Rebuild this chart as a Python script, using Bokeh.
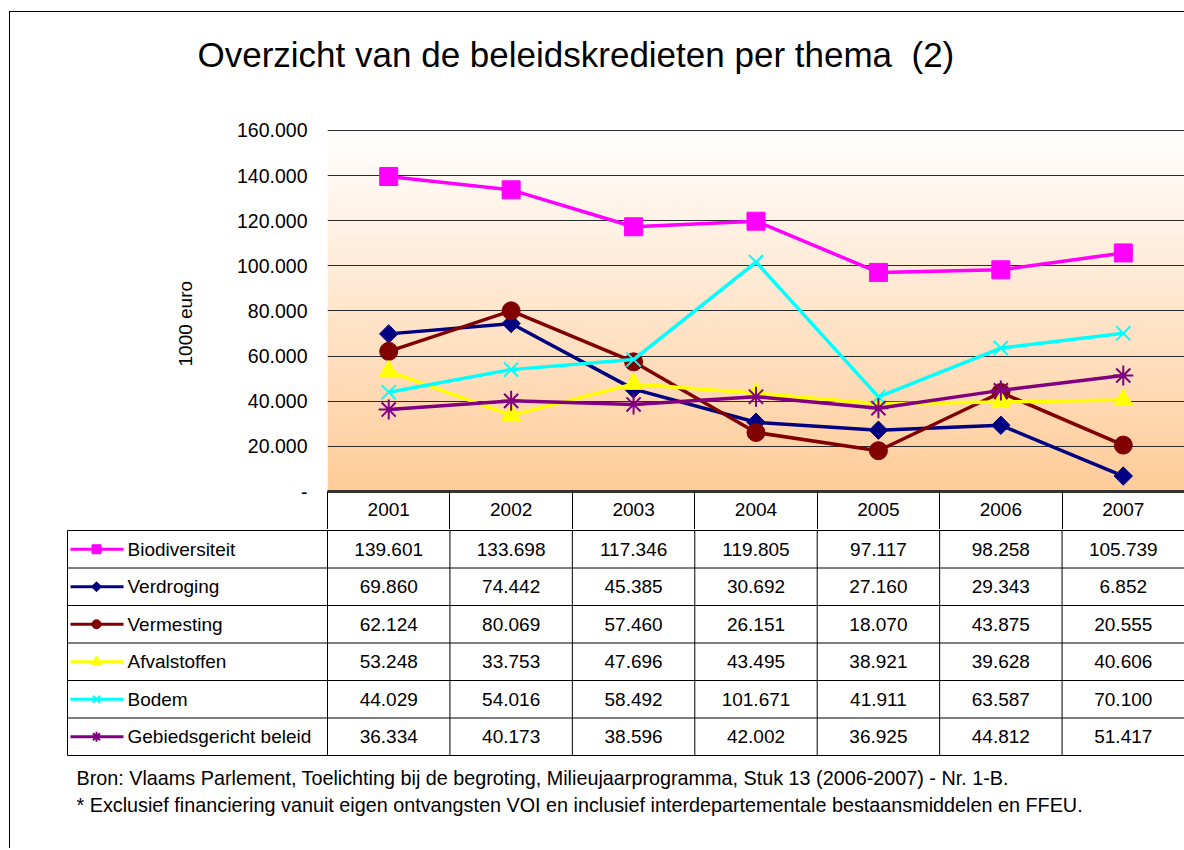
import numpy as np
from bokeh.plotting import figure
from bokeh.models import Range1d, FixedTicker, Title
from bokeh.layouts import column
from bokeh.embed import file_html
from bokeh.resources import INLINE
from bokeh.core.properties import value

# ---------------- data ----------------
years = ["2001", "2002", "2003", "2004", "2005", "2006", "2007"]
series_names = ["Biodiversiteit", "Verdroging", "Vermesting", "Afvalstoffen", "Bodem", "Gebiedsgericht beleid"]
biodiversiteit = [139601, 133698, 117346, 119805, 97117, 98258, 105739]
verdroging = [69860, 74442, 45385, 30692, 27160, 29343, 6852]
vermesting = [62124, 80069, 57460, 26151, 18070, 43875, 20555]
afvalstoffen = [53248, 33753, 47696, 43495, 38921, 39628, 40606]
bodem = [44029, 54016, 58492, 101671, 41911, 63587, 70100]
gebiedsgericht = [36334, 40173, 38596, 42002, 36925, 44812, 51417]
y_ticks = [0, 20000, 40000, 60000, 80000, 100000, 120000, 140000, 160000]
y_tick_labels = ["-", "20.000", "40.000", "60.000", "80.000", "100.000", "120.000", "140.000", "160.000"]
title_text = "Overzicht van de beleidskredieten per thema \u00a0(2)"
y_label = "1000 euro"
footnotes = [
    "Bron: Vlaams Parlement, Toelichting bij de begroting, Milieujaarprogramma, Stuk 13 (2006-2007) - Nr. 1-B.",
    "* Exclusief financiering vanuit eigen ontvangsten VOI en inclusief interdepartementale bestaansmiddelen en FFEU.",
]

all_series = [biodiversiteit, verdroging, vermesting, afvalstoffen, bodem, gebiedsgericht]

# ---------------- styles ----------------
colors = ["#FF00FF", "#000080", "#800000", "#FFFF00", "#00FFFF", "#800080"]
markers = ["square", "square", "circle", "triangle", "x", "asterisk"]
marker_angles = [0, np.pi / 4, 0, 0, 0, 0]
marker_sizes = [18, 13, 18, 19, 20, 20]
legend_sizes = [9, 7, 9, 10, 10, 10]
FONT = "Liberation Sans"

ORIGIN_X, ORIGIN_Y = 10, 12          # page position of the content (inside the border)
W = 1174
FRAME_LEFT_PAGE = 327
FRAME_TOP_PAGE = 129
FRAME_BOTTOM_PAGE = 491
HEADER_BOTTOM_PAGE = 529
TOTAL_H = 836
LEFT = FRAME_LEFT_PAGE - ORIGIN_X
TOP = FRAME_TOP_PAGE - ORIGIN_Y
FRAME_H = FRAME_BOTTOM_PAGE - FRAME_TOP_PAGE
HEADER_H = HEADER_BOTTOM_PAGE - FRAME_BOTTOM_PAGE
CHART_H = TOP + FRAME_H + HEADER_H
TABLE_H = TOTAL_H - CHART_H
ROW_PX = 37.5
n = len(years)
col_px = (W - LEFT) / n
Y_MAX = 160000


def px(page_x):
    return (page_x - FRAME_LEFT_PAGE) / col_px


def fmt(v):
    return f"{v:,}".replace(",", ".")


xs = [i + 0.5 for i in range(n)]

# ---------------- chart ----------------
p = figure(width=W, height=CHART_H, output_backend="svg", toolbar_location=None, title=None,
           x_range=Range1d(0, n), y_range=Range1d(0, Y_MAX * (1 + 1.0 / FRAME_H)),
           min_border_left=LEFT, min_border_right=0, min_border_top=TOP, min_border_bottom=HEADER_H)
p.frame_align = False
p.outline_line_color = None
p.background_fill_color = "white"
p.border_fill_color = "white"
p.xgrid.visible = False

# spacer panel between frame and title (pushes the title upward)
spacer = Title(text="\u00a0", text_font_size="1px", standoff=53)
p.add_layout(spacer, "above")
main_title = Title(text=title_text, text_font=FONT, text_font_size="35px", text_font_style="normal",
                   align="left", offset=197 - FRAME_LEFT_PAGE, standoff=0, text_color="black")
p.add_layout(main_title, "above")

# gradient background of plot area
rows = FRAME_H
grad = np.zeros((rows, 1), dtype=np.uint32)
view = grad.view(dtype=np.uint8).reshape((rows, 1, 4))
t = np.linspace(0, 1, rows)
view[:, 0, 0] = 255
view[:, 0, 1] = (204 + (255 - 204) * t).astype(np.uint8)
view[:, 0, 2] = (153 + (255 - 153) * t).astype(np.uint8)
view[:, 0, 3] = 255
p.image_rgba(image=[grad], x=0, y=0, dw=n, dh=Y_MAX, level="image")

p.ygrid.ticker = FixedTicker(ticks=y_ticks)
p.ygrid.grid_line_color = "#2b2b2b"
p.ygrid.grid_line_width = 1

p.yaxis.ticker = FixedTicker(ticks=y_ticks)
p.yaxis.major_label_overrides = {t_: l_ for t_, l_ in zip(y_ticks, y_tick_labels)}
p.yaxis.axis_line_color = None
p.yaxis.major_tick_line_color = None
p.yaxis.minor_tick_line_color = None
p.yaxis.major_tick_out = 0
p.yaxis.major_tick_in = 0
p.yaxis.minor_tick_out = 0
p.yaxis.major_label_standoff = 20
p.yaxis.major_label_text_font = FONT
p.yaxis.major_label_text_font_size = "19.5px"
p.yaxis.major_label_text_color = "black"
p.yaxis.axis_label = y_label + "\u00a0" * 5
p.yaxis.axis_label_text_font = FONT
p.yaxis.axis_label_text_font_size = "19px"
p.yaxis.axis_label_text_font_style = "normal"
p.yaxis.axis_label_text_color = "black"
p.yaxis.axis_label_standoff = 38

# x axis acts as the year header row of the data table
p.xaxis.ticker = FixedTicker(ticks=xs, minor_ticks=list(range(0, n + 1)))
p.xaxis.major_label_overrides = {x_: y_ for x_, y_ in zip(xs, years)}
p.xaxis.axis_line_color = "#333333"
p.xaxis.axis_line_width = 3
p.xaxis.major_tick_line_color = None
p.xaxis.major_tick_out = 0
p.xaxis.major_tick_in = 0
p.xaxis.minor_tick_in = 0
p.xaxis.minor_tick_out = HEADER_H
p.xaxis.minor_tick_line_color = "black"
p.xaxis.minor_tick_line_width = 1
p.xaxis.major_label_standoff = -HEADER_H + 11
p.xaxis.major_label_text_font = FONT
p.xaxis.major_label_text_font_size = "19px"
p.xaxis.major_label_text_color = "black"

for vals, c, m, a, s in zip(all_series, colors, markers, marker_angles, marker_sizes):
    p.line(xs, vals, line_color=c, line_width=3.5)
    lw = 2 if m in ("x", "asterisk") else 1
    p.scatter(xs, vals, marker=m, angle=a, size=s, fill_color=c, line_color=c, line_width=lw)

# ---------------- table ----------------
t2 = figure(width=W, height=TABLE_H, output_backend="svg", toolbar_location=None, title=None,
            x_range=Range1d(px(ORIGIN_X), n),
            y_range=Range1d((TABLE_H - 1) / ROW_PX, -1.0 / ROW_PX),
            min_border_left=0, min_border_right=0, min_border_top=0, min_border_bottom=0,
            x_axis_location=None, y_axis_location=None)
t2.frame_align = False
t2.outline_line_color = None
t2.xgrid.visible = False
t2.ygrid.visible = False

n_series = len(series_names)
LEG_LEFT = px(67)
hy = list(range(0, n_series + 1))
t2.segment(x0=[LEG_LEFT] * len(hy), y0=hy, x1=[n] * len(hy), y1=hy, line_color="black", line_width=1)
vx = list(range(0, n + 1))
t2.segment(x0=vx, y0=[0] * len(vx), x1=vx, y1=[n_series] * len(vx), line_color="black", line_width=1)
t2.segment(x0=[LEG_LEFT], y0=[0], x1=[LEG_LEFT], y1=[n_series], line_color="black", line_width=1)

for r, vals in enumerate(all_series):
    t2.text(x=xs, y=[r + 0.5] * n, text=[fmt(v) for v in vals], text_font=value(FONT),
            text_font_size="19px", text_align="center", text_baseline="middle", text_color="black")

LEG_L0, LEG_L1, LEG_M, LEG_T = px(70), px(123), px(96), px(127)
for r, (name, c, m, a, s) in enumerate(zip(series_names, colors, markers, marker_angles, legend_sizes)):
    yy = r + 0.5
    t2.segment(x0=[LEG_L0], y0=[yy], x1=[LEG_L1], y1=[yy], line_color=c, line_width=3)
    t2.scatter([LEG_M], [yy], marker=m, angle=a, size=s, fill_color=c, line_color=c,
               line_width=2 if m in ("x", "asterisk") else 1)
    t2.text(x=[LEG_T], y=[yy], text=[name], text_font=value(FONT), text_font_size="19px",
            text_align="left", text_baseline="middle", text_color="black")

for f, pyy in zip(footnotes, [777, 804]):
    t2.text(x=[px(76)], y=[(pyy - HEADER_BOTTOM_PAGE - 1) / ROW_PX], text=[f], text_font=value(FONT),
            text_font_size="19.8px", text_align="left", text_baseline="middle", text_color="black")

layout = column(p, t2, styles={"border-left": "1px solid black", "border-top": "1px solid black",
                               "margin-left": "9px", "margin-top": "11px"})

with open("out.html", "w") as fh:
    fh.write(file_html(layout, INLINE))
